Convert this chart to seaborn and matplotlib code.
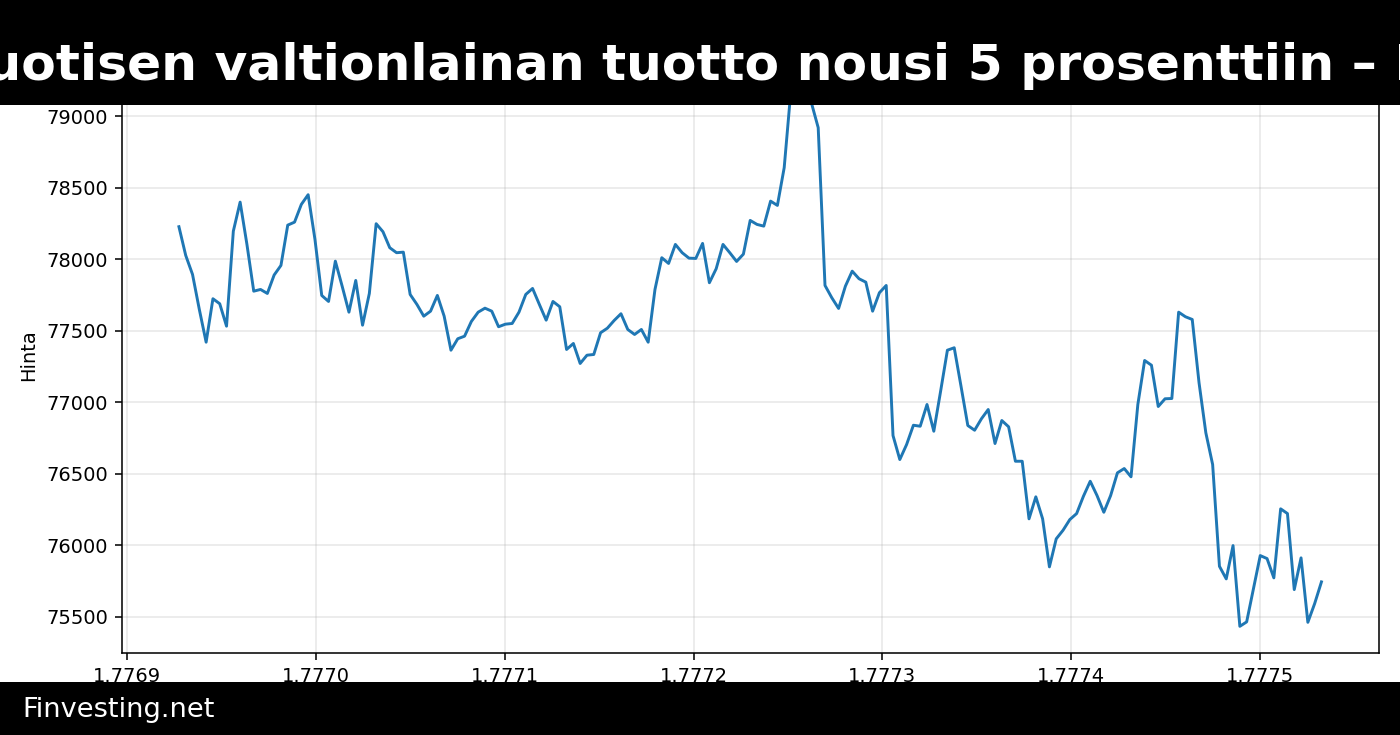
import numpy as np
import pandas as pd
import seaborn as sns
import matplotlib
matplotlib.use("Agg")
import matplotlib.pyplot as plt
from matplotlib.patches import Rectangle


title = "USA:n 30-vuotisen valtionlainan tuotto nousi 5 prosenttiin – Bitcoin laski"
source = "Finvesting.net"
y_label = "Hinta"

# hourly closes, x axis is unix time (seconds)
start_ts = 1776927600
step_s = 3600
price = [
    78228, 78027, 77894, 77649, 77420, 77724, 77689, 77532, 78197, 78400,
    78104, 77777, 77789, 77761, 77890, 77957, 78239, 78260, 78384, 78452,
    78140, 77747, 77705, 77987, 77812, 77630, 77852, 77539, 77761, 78249,
    78193, 78081, 78046, 78050, 77754, 77684, 77602, 77637, 77747, 77602,
    77364, 77444, 77462, 77565, 77630, 77658, 77637, 77528, 77546, 77551,
    77630, 77754, 77796, 77684, 77574, 77705, 77668, 77369, 77411, 77271,
    77329, 77334, 77486, 77518, 77572, 77619, 77509, 77474, 77509, 77420,
    77789, 78011, 77971, 78104, 78046, 78008, 78006, 78111, 77836, 77934,
    78104, 78046, 77985, 78036, 78272, 78244, 78232, 78407, 78377, 78641,
    79190, 79223, 79160, 79095, 78921, 77817, 77731, 77656, 77812, 77917,
    77864, 77840, 77637, 77766, 77817, 76767, 76599, 76704, 76839, 76832,
    76984, 76797, 77077, 77364, 77381, 77112, 76837, 76804, 76884, 76949,
    76711, 76872, 76828, 76587, 76587, 76184, 76338, 76184, 75848, 76044,
    76104, 76179, 76221, 76342, 76447, 76347, 76230, 76347, 76506, 76536,
    76478, 76984, 77292, 77259, 76970, 77024, 77026, 77630, 77598, 77579,
    77136, 76786, 76564, 75852, 75764, 75997, 75432, 75463, 75696, 75927,
    75906, 75771, 76254, 76221, 75689, 75911, 75460, 75591, 75743,
]
timestamps = start_ts + step_s * np.arange(len(price))

df = pd.DataFrame({"ts": timestamps, "price": price})

fig = plt.figure(figsize=(10, 5.25), dpi=140)
ax = fig.add_axes([0.087, 0.111, 0.8977, 0.8109])

sns.lineplot(data=df, x="ts", y="price", ax=ax, color="#1f77b4", linewidth=1.5)
ax.set_xlabel("")
ax.set_ylabel(y_label)
ax.grid(True, alpha=0.3)

# black header and footer bands
H = 735
fig.add_artist(Rectangle((0, 1 - 105 / H), 1, 105 / H, transform=fig.transFigure,
                         facecolor="black", edgecolor="none", zorder=10))
fig.text(0.504, 1 - 80 / H, title, ha="center", va="baseline", color="white",
         fontsize=25.9, fontweight="bold", zorder=11)

fig.add_artist(Rectangle((0, 0), 1, 53 / H, transform=fig.transFigure,
                         facecolor="black", edgecolor="none", zorder=10))
fig.text(22 / 1400, 1 - 717 / H, source, ha="left", va="baseline", color="white",
         fontsize=14, zorder=11)

fig.savefig("out.png", dpi=140)
